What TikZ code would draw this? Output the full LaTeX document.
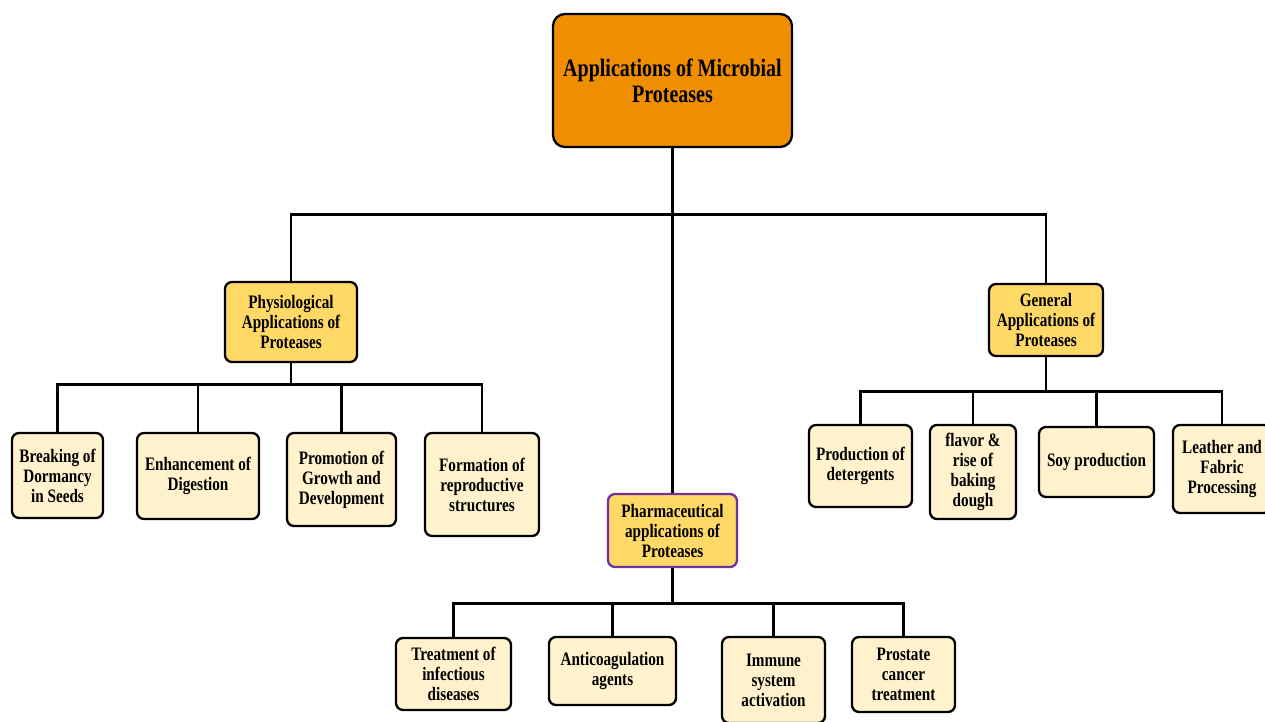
\documentclass[tikz,border=0pt]{standalone}
\usepackage{fontspec}
\setmainfont{Liberation Serif}[FakeStretch=0.8]
\usetikzlibrary{positioning}
\definecolor{rootfill}{HTML}{EE8E00}
\definecolor{groupfill}{HTML}{FFD966}
\definecolor{leaffill}{HTML}{FFF2CC}
\definecolor{pharmline}{HTML}{7030A0}

\begin{document}
\begin{tikzpicture}[x=1pt,y=-1pt,
  every node/.style={draw=black,line width=2.3pt,rounded corners=7pt,align=center,inner sep=0pt,
    font=\bfseries\fontsize{19}{20}\selectfont},
  root/.style={fill=rootfill,rounded corners=12pt,font=\bfseries\fontsize{25}{26}\selectfont},
  group/.style={fill=groupfill},
  leaf/.style={fill=leaffill},
  link/.style={line width=2.7pt}]
  \useasboundingbox (0,0) rectangle (1265,721);

  \node[root,minimum width=239pt,minimum height=133pt] (root) at (672.5,80.5) {Applications of Microbial\\Proteases};

  \node[group,minimum width=132pt,minimum height=80pt] (phys) at (291,322) {Physiological\\Applications of\\Proteases};
  \node[group,minimum width=114pt,minimum height=72pt] (gen) at (1046,320) {General\\Applications of\\Proteases};
  \node[group,draw=pharmline,minimum width=129pt,minimum height=73pt] (pharm) at (672.5,530.5) {Pharmaceutical\\applications of\\Proteases};

  % physiological
  \node[leaf,minimum width=91pt,minimum height=85pt] (b1) at (57.5,475.5) {Breaking of\\Dormancy\\in Seeds};
  \node[leaf,minimum width=122pt,minimum height=86pt] (b2) at (198,476) {Enhancement of\\Digestion};
  \node[leaf,minimum width=109pt,minimum height=93pt] (b3) at (341.5,479.5) {Promotion of\\Growth and\\Development};
  \node[leaf,minimum width=114pt,minimum height=103pt] (b4) at (482,484.5) {Formation of\\reproductive\\structures};

  % general
  \node[leaf,minimum width=103pt,minimum height=82pt] (g1) at (860.5,466) {Production of\\detergents};
  \node[leaf,minimum width=86pt,minimum height=94pt] (g2) at (973,472) {flavor \&\\rise of\\baking\\dough};
  \node[leaf,minimum width=115pt,minimum height=70pt] (g3) at (1096.5,462) {Soy production};
  \node[leaf,minimum width=98pt,minimum height=88pt] (g4) at (1222,469) {Leather and\\Fabric\\Processing};

  % pharmaceutical
  \node[leaf,minimum width=115pt,minimum height=72pt] (p1) at (453.5,674) {Treatment of\\infectious\\diseases};
  \node[leaf,minimum width=127pt,minimum height=68pt] (p2) at (612.5,671) {Anticoagulation\\agents};
  \node[leaf,minimum width=103pt,minimum height=86pt] (p3) at (773.5,680) {Immune\\system\\activation};
  \node[leaf,minimum width=103pt,minimum height=75pt] (p4) at (903.5,674.5) {Prostate\\cancer\\treatment};

  \draw[link] (root.south) -- ++(0,66) coordinate (jr);
  \draw[link] (jr) -| (phys.north);
  \draw[link] (jr) -| (gen.north);
  \draw[link] (jr) -- (pharm.north);

  \draw[link] (phys.south) -- ++(0,21) coordinate (jp);
  \foreach \n in {b1,b2,b3,b4}
    \draw[link] (jp) -| (\n.north);

  \draw[link] (gen.south) -- ++(0,34) coordinate (jg);
  \foreach \n in {g1,g2,g3,g4}
    \draw[link] (jg) -| (\n.north);

  \draw[link] (pharm.south) -- ++(0,35) coordinate (jm);
  \foreach \n in {p1,p2,p3,p4}
    \draw[link] (jm) -| (\n.north);
\end{tikzpicture}
\end{document}
